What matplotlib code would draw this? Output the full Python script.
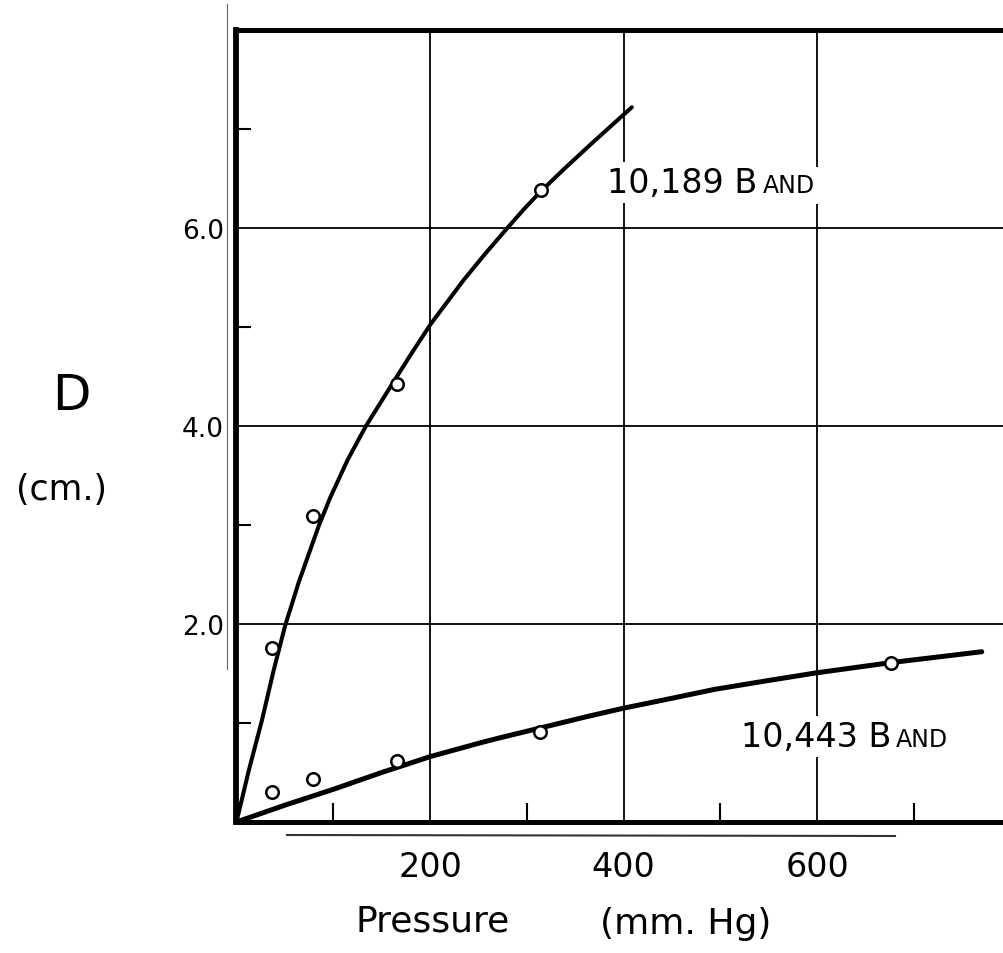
import matplotlib as mpl
mpl.use('Agg')
import matplotlib.pyplot as plt
from matplotlib.lines import Line2D

plt.rcParams['font.family'] = ['DejaVu Sans']

# measured points (open circles)
p_10189 = [37, 79, 166, 315]
d_10189 = [1.76, 3.09, 4.42, 6.38]
p_10443 = [37, 79, 166, 314, 676]
d_10443 = [0.30, 0.43, 0.62, 0.91, 1.61]

# hand drawn curves
curve_10189_p = [0, 13, 26.4, 38.4, 50.5, 64.3, 85, 97, 115, 133.8, 160, 180, 200.7,
                 234.4, 257, 279, 297, 314.4, 340, 368.8, 408.5]
curve_10189_d = [0, 0.53, 1.03, 1.53, 1.99, 2.42, 2.99, 3.28, 3.66, 4.00, 4.41, 4.72, 5.03,
                 5.47, 5.74, 5.99, 6.19, 6.37, 6.61, 6.87, 7.22]
curve_10443_p = [0, 50, 100, 150, 200, 252, 272, 314, 360, 400, 450, 494, 550, 598, 676, 770]
curve_10443_d = [0, 0.17, 0.33, 0.50, 0.66, 0.80, 0.85, 0.95, 1.06, 1.15, 1.25, 1.34,
                 1.43, 1.505, 1.61, 1.72]

x_major = [200, 400, 600]
x_minor = [100, 300, 500, 700]
y_major = [2, 4, 6]
y_minor = [1, 3, 5, 7]

fig = plt.figure(figsize=(10.04, 9.54), dpi=100)
ax = fig.add_axes([0.2355, 0.1373, 0.7645, 0.8302])
ax.set_xlim(0, 793)
ax.set_ylim(0, 8.0)

ax.plot(curve_10189_p, curve_10189_d, color='black', lw=2.9, solid_capstyle='round',
        solid_joinstyle='round', zorder=3)
ax.plot(curve_10443_p, curve_10443_d, color='black', lw=3.6, solid_capstyle='round',
        solid_joinstyle='round', zorder=3)
ax.plot(p_10189, d_10189, 'o', mfc='white', mec='black', ms=9, mew=1.8, zorder=4)
ax.plot(p_10443, d_10443, 'o', mfc='white', mec='black', ms=9, mew=1.8, zorder=4)

ax.set_xticks(x_major)
ax.set_xticklabels([str(v) for v in x_major], fontsize=24)
ax.set_xticks(x_minor, minor=True)
ax.set_yticks(y_major)
ax.set_yticklabels(['%.1f' % v for v in y_major], fontsize=19)
ax.set_yticks(y_minor, minor=True)
ax.tick_params(which='major', length=0)
ax.tick_params(axis='x', which='major', pad=20)
ax.tick_params(axis='y', which='major', pad=9)
ax.tick_params(which='minor', direction='in', width=1.5, color='black')
ax.tick_params(axis='x', which='minor', length=14)
ax.tick_params(axis='y', which='minor', length=11)
ax.grid(True, which='major', color='black', lw=1.3, zorder=1)

ax.spines['right'].set_visible(False)
ax.spines['left'].set_linewidth(4.2)
ax.spines['bottom'].set_linewidth(3.6)
ax.spines['top'].set_linewidth(3.6)

# band labels, small caps done by hand: "AND" goes right after the big "B"
fig.canvas.draw()
renderer = fig.canvas.get_renderer()
for x0, y0, num in [(383, 6.36, '10,189 B'), (521, 0.77, '10,443 B')]:
    t = ax.text(x0, y0, num, fontsize=24, va='baseline', ha='left',
                bbox=dict(facecolor='white', edgecolor='none', pad=3), zorder=6)
    right = t.get_window_extent(renderer).x1
    x_and = ax.transData.inverted().transform((right + 5, 0))[0]
    ax.text(x_and, y0, 'AND', fontsize=17, va='baseline', ha='left',
            bbox=dict(facecolor='white', edgecolor='none', pad=5), zorder=5)

# axis titles
fig.text(71 / 1004, 1 - 396 / 954, 'D', fontsize=36, ha='center', va='center')
fig.text(62 / 1004, 1 - 490 / 954, '(cm.)', fontsize=25, ha='center', va='center')
fig.text(433 / 1004, 1 - 932 / 954, 'Pressure', fontsize=26, ha='center', va='baseline')
fig.text(686 / 1004, 1 - 934 / 954, '(mm. Hg)', fontsize=26, ha='center', va='baseline')

# pencil strokes on the scanned sheet
fig.add_artist(Line2D([227 / 1004, 227 / 1004], [1 - 5 / 954, 1 - 670 / 954], color='#666666', lw=0.8))
fig.add_artist(Line2D([287 / 1004, 895 / 1004], [1 - 836 / 954, 1 - 837 / 954], color='#333333', lw=1.5))

fig.savefig('out.png', dpi=100)
